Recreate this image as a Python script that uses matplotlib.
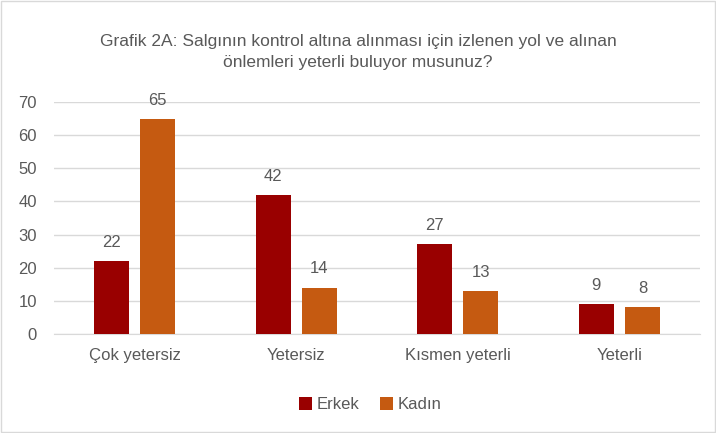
import matplotlib.pyplot as plt
import numpy as np

categories = ["Çok yetersiz", "Yetersiz", "Kısmen yeterli", "Yeterli"]
erkek = [22, 42, 27, 9]
kadin = [65, 14, 13, 8]
y_ticks = [0, 10, 20, 30, 40, 50, 60, 70]

plt.rcParams["font.family"] = ["Liberation Sans", "DejaVu Sans"]
grey = "#595959"

fig = plt.figure(figsize=(7.16, 4.33), dpi=100)
ax = fig.add_axes([0.075, 0.229, 0.903, 0.535])

x = np.arange(len(categories))
w = 0.217
off = 0.143
b1 = ax.bar(x - off, erkek, w, color="#990000", label="Erkek", zorder=3)
b2 = ax.bar(x + off, kadin, w, color="#C55A11", label="Kadın", zorder=3)

for bars in (b1, b2):
    for r in bars:
        ax.annotate(str(int(r.get_height())), (r.get_x() + r.get_width() / 2, r.get_height()),
                    xytext=(0, 8), textcoords="offset points", ha="center", va="bottom",
                    fontsize=12, color=grey)

ax.set_xlim(-0.5, 3.5)
ax.set_ylim(0, 70)
ax.set_yticks(y_ticks)
ax.set_xticks(x)
ax.set_xticklabels(categories)
ax.tick_params(axis="both", length=0, labelsize=12, labelcolor=grey)
ax.tick_params(axis="x", pad=10)
ax.tick_params(axis="y", pad=12)
ax.grid(axis="y", color="#D9D9D9", linewidth=1, zorder=0)
for s in ["top", "right", "left"]:
    ax.spines[s].set_visible(False)
ax.spines["bottom"].set_color("#D9D9D9")

fig.text(0.5, 0.88, "Grafik 2A: Salgının kontrol altına alınması için izlenen yol ve alınan\nönlemleri yeterli buluyor musunuz?",
         ha="center", va="center", fontsize=12.5, color=grey, linespacing=1.55)

fig.legend(handles=[b1, b2], loc="center", bbox_to_anchor=(0.517, 0.065), ncol=2, frameon=False,
           fontsize=12, labelcolor=grey, handlelength=0.8, handleheight=0.8, handletextpad=0.3,
           columnspacing=1.2)

fig.patches.append(plt.Rectangle((0.002, 0.003), 0.996, 0.994, transform=fig.transFigure,
                                 fill=False, edgecolor="#D9D9D9", linewidth=1))

plt.savefig("out.png", dpi=100)
